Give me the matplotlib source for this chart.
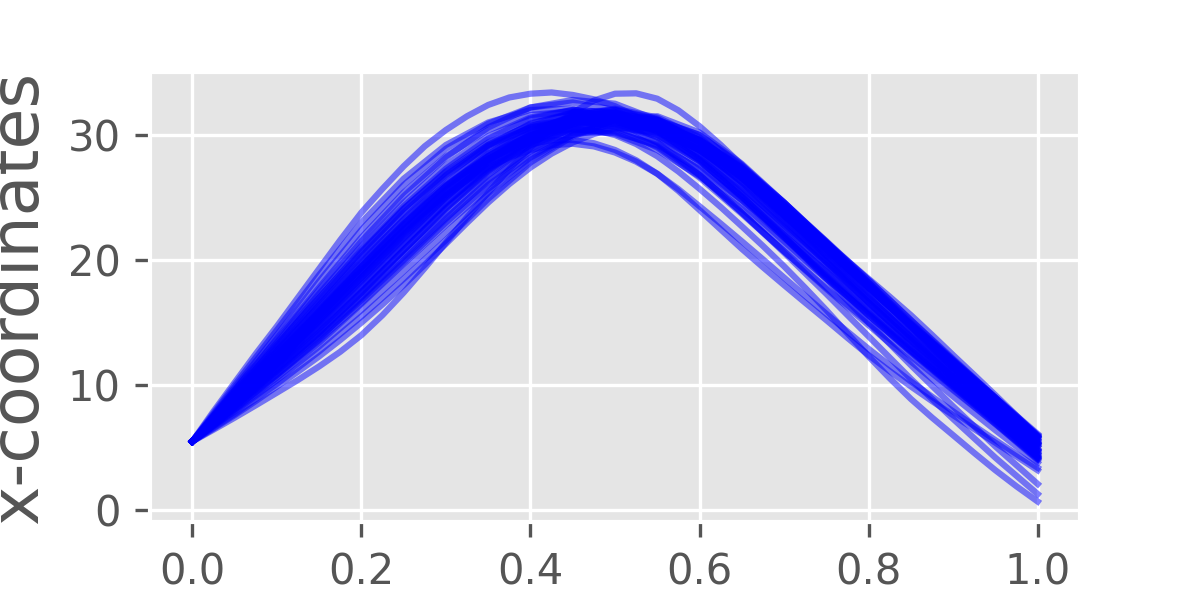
import matplotlib
matplotlib.use("Agg")
import matplotlib.pyplot as plt

plt.style.use("ggplot")

# sample positions along the curve (coarse sampling for most curves)
x_positions = [0.00, 0.05, 0.10, 0.15, 0.20, 0.25, 0.30, 0.35, 0.40, 0.45, 0.50,
               0.55, 0.60, 0.65, 0.70, 0.75, 0.80, 0.85, 0.90, 0.95, 1.00]

# finer sampling for the outlying curves that stand apart from the bundle
x_positions_fine = [0.000, 0.025, 0.050, 0.075, 0.100, 0.125, 0.150, 0.175, 0.200, 0.225,
                    0.250, 0.275, 0.300, 0.325, 0.350, 0.375, 0.400, 0.425, 0.450, 0.475,
                    0.500, 0.525, 0.550, 0.575, 0.600, 0.625, 0.650, 0.675, 0.700, 0.725,
                    0.750, 0.775, 0.800, 0.825, 0.850, 0.875, 0.900, 0.925, 0.950, 0.975, 1.000]

curve_01 = [5.5, 7.9, 10.2, 12.5, 14.7, 17.0, 19.3, 21.6, 23.8, 25.7, 27.5, 29.1, 30.4, 31.5, 32.4, 33.0, 33.3, 33.4, 33.2, 32.85,
            32.3, 31.5, 30.6, 29.5, 28.2, 26.8, 25.3, 23.8, 22.2, 20.6, 19.1, 17.6, 16.1, 14.6, 13.1, 11.6, 10.1, 8.6, 7.2, 5.8, 4.5]
curve_19 = [5.5, 6.44, 7.4, 8.39, 9.4, 10.42, 11.5, 12.67, 14.0, 15.6, 17.4, 19.36, 21.4, 23.43, 25.4, 27.28, 29.0, 30.53, 31.8, 32.75,
            33.3, 33.33, 32.9, 31.97, 30.7, 29.21, 27.6, 26.0, 24.4, 22.88, 21.4, 19.94, 18.5, 17.07, 15.6, 14.02, 12.4, 10.81, 9.2, 7.56, 5.9]
curve_20 = [5.5, 6.53, 7.6, 8.73, 9.9, 11.08, 12.3, 13.61, 15.0, 16.46, 18.0, 19.63, 21.3, 22.98, 24.6, 26.08, 27.4, 28.51, 29.4, 30.08,
            30.5, 30.65, 30.5, 30.0, 29.2, 28.11, 26.8, 25.31, 23.7, 22.06, 20.4, 18.75, 17.1, 15.44, 13.8, 12.19, 10.6, 9.0, 7.4, 5.8, 4.2]
curve_21 = [5.5, 7.2, 8.9, 10.59, 12.3, 14.05, 15.8, 17.52, 19.2, 20.84, 22.4, 23.86, 25.2, 26.39, 27.4, 28.21, 28.8, 29.18, 29.3, 29.09,
            28.6, 27.87, 26.9, 25.67, 24.3, 22.92, 21.5, 20.06, 18.6, 17.14, 15.7, 14.28, 12.9, 11.58, 10.3, 9.08, 7.9, 6.74, 5.6, 4.49, 3.4]
curve_22 = [5.5, 7.3, 9.1, 10.9, 12.7, 14.5, 16.3, 18.12, 19.9, 21.6, 23.2, 24.68, 26.0, 27.15, 28.1, 28.81, 29.3, 29.58, 29.6, 29.34,
            28.8, 27.98, 26.9, 25.53, 24.0, 22.45, 20.9, 19.43, 18.0, 16.59, 15.2, 13.78, 12.4, 11.12, 9.9, 8.73, 7.6, 6.49, 5.4, 4.3, 3.2]
curve_23 = [5.5, 7.26, 9.0, 10.7, 12.4, 14.14, 15.9, 17.71, 19.5, 21.24, 22.9, 24.46, 25.9, 27.19, 28.3, 29.21, 29.9, 30.33, 30.5, 30.39,
            30.0, 29.28, 28.3, 27.08, 25.7, 24.24, 22.7, 21.13, 19.5, 17.78, 16.0, 14.14, 12.3, 10.55, 8.9, 7.41, 6.0, 4.58, 3.2, 1.91, 0.7]

curve_02 = [5.5, 10.0, 14.4, 18.8, 23.0, 26.5, 29.2, 31.0, 32.0, 32.1, 31.2, 29.4, 26.8, 23.8, 20.7, 17.7, 14.8, 11.9, 9.1, 6.4, 3.8]
curve_03 = [5.5, 9.8, 14.0, 18.3, 22.4, 26.0, 28.9, 30.9, 32.2, 32.6, 32.0, 30.4, 28.0, 25.0, 21.8, 18.6, 15.6, 12.7, 9.8, 7.0, 4.2]
curve_04 = [5.5, 9.6, 13.6, 17.6, 21.5, 25.1, 28.2, 30.6, 32.2, 32.8, 32.5, 31.2, 29.0, 26.2, 23.0, 19.8, 16.6, 13.5, 10.5, 7.6, 4.8]
curve_05 = [5.5, 9.4, 13.2, 17.0, 20.8, 24.3, 27.3, 29.7, 31.3, 32.0, 31.8, 30.6, 28.5, 25.8, 22.8, 19.8, 16.8, 13.9, 11.0, 8.3, 5.6]
curve_06 = [5.5, 9.2, 12.8, 16.4, 20.1, 23.6, 26.7, 29.2, 30.9, 31.7, 31.6, 30.6, 28.8, 26.3, 23.5, 20.6, 17.7, 14.8, 11.9, 9.0, 6.0]
curve_07 = [5.5, 9.0, 12.4, 15.9, 19.4, 22.8, 25.9, 28.5, 30.4, 31.4, 31.5, 30.6, 28.8, 26.2, 23.2, 20.1, 17.0, 13.9, 10.8, 7.8, 4.9]
curve_08 = [5.5, 8.8, 12.1, 15.5, 19.0, 22.4, 25.6, 28.3, 30.3, 31.5, 31.8, 31.1, 29.5, 27.1, 24.2, 21.0, 17.8, 14.6, 11.4, 8.3, 5.3]
curve_09 = [5.5, 8.7, 11.9, 15.2, 18.6, 22.0, 25.2, 28.0, 30.2, 31.6, 32.0, 31.3, 29.4, 26.6, 23.3, 19.9, 16.6, 13.4, 10.3, 7.3, 4.4]
curve_10 = [5.5, 8.6, 11.7, 14.9, 18.3, 21.7, 25.0, 27.8, 29.9, 31.1, 31.3, 30.5, 28.8, 26.4, 23.6, 20.7, 17.8, 14.8, 11.8, 8.8, 5.8]
curve_11 = [5.5, 8.5, 11.5, 14.6, 17.9, 21.3, 24.6, 27.5, 29.7, 31.0, 31.3, 30.6, 29.0, 26.7, 23.9, 20.9, 17.9, 14.9, 12.0, 9.0, 5.7]
curve_12 = [5.5, 8.4, 11.3, 14.3, 17.5, 20.8, 24.1, 27.1, 29.4, 30.9, 31.4, 30.9, 29.5, 27.3, 24.4, 21.4, 18.4, 15.2, 12.1, 9.0, 5.9]
curve_13 = [5.5, 8.3, 11.1, 14.0, 17.1, 20.4, 23.7, 26.8, 29.3, 30.9, 31.5, 31.0, 29.4, 27.0, 24.0, 20.9, 17.8, 14.8, 11.8, 8.9, 6.0]
curve_14 = [5.5, 8.2, 10.9, 13.8, 16.8, 20.0, 23.3, 26.4, 28.9, 30.6, 31.3, 31.0, 29.6, 27.4, 24.5, 21.5, 18.4, 15.2, 12.0, 9.0, 6.1]
curve_15 = [5.5, 8.1, 10.8, 13.7, 17.0, 20.3, 23.4, 26.3, 28.7, 30.4, 31.3, 31.2, 30.0, 27.6, 24.6, 21.4, 18.2, 15.0, 11.9, 8.8, 5.8]
curve_16 = [5.5, 8.0, 10.6, 13.4, 16.5, 19.7, 22.8, 25.7, 28.2, 30.0, 31.0, 30.9, 29.6, 27.3, 24.3, 21.1, 17.9, 14.6, 11.4, 8.3, 5.3]
curve_17 = [5.5, 7.9, 10.4, 13.1, 16.0, 19.1, 22.2, 25.3, 28.0, 30.0, 31.2, 31.2, 30.0, 27.5, 24.6, 21.4, 18.1, 14.7, 11.3, 7.9, 4.7]
curve_18 = [5.5, 7.7, 10.1, 12.7, 15.5, 18.5, 21.6, 24.9, 27.8, 29.9, 31.2, 31.5, 30.2, 27.7, 24.6, 21.4, 18.1, 14.8, 11.5, 8.3, 5.1]
curve_24 = [5.5, 8.7, 11.9, 15.2, 18.6, 22.0, 25.1, 27.7, 29.5, 30.4, 30.3, 29.1, 26.8, 23.8, 20.6, 17.3, 13.9, 10.5, 7.3, 4.2, 1.3]
curve_25 = [5.5, 8.3, 11.2, 14.2, 17.4, 20.8, 24.1, 27.0, 29.2, 30.5, 30.8, 29.9, 27.9, 25.1, 21.9, 18.5, 15.0, 11.6, 8.3, 5.1, 2.1]
curve_26 = [5.5, 8.5, 11.6, 14.8, 18.0, 21.4, 24.6, 27.3, 29.2, 30.2, 30.2, 29.2, 27.3, 24.8, 22.0, 19.1, 16.2, 13.3, 10.4, 7.5, 4.6]
curve_27 = [5.5, 8.9, 12.2, 15.6, 19.1, 22.5, 25.6, 28.1, 29.8, 30.5, 30.1, 28.8, 26.7, 24.1, 21.3, 18.5, 15.7, 12.8, 10.0, 7.2, 4.3]
curve_28 = [5.5, 9.3, 13.0, 16.8, 20.6, 24.1, 27.1, 29.4, 30.8, 31.2, 30.6, 29.0, 26.6, 23.7, 20.7, 17.8, 15.0, 12.3, 9.6, 6.9, 4.1]
curve_29 = [5.5, 8.1, 10.8, 13.6, 16.6, 19.8, 23.0, 26.0, 28.4, 30.0, 30.6, 30.2, 28.8, 26.6, 23.9, 20.9, 17.8, 14.7, 11.6, 8.5, 5.4]
curve_30 = [5.5, 9.5, 13.4, 17.3, 21.1, 24.6, 27.6, 29.9, 31.4, 32.0, 31.7, 30.3, 28.0, 25.1, 21.9, 18.7, 15.6, 12.6, 9.7, 6.9, 4.0]
curve_31 = [5.5, 8.6, 11.8, 15.0, 18.4, 21.8, 25.0, 27.9, 30.1, 31.5, 32.1, 31.4, 29.8, 27.0, 23.6, 20.4, 17.5, 14.6, 11.6, 8.6, 5.6]
curve_32 = [5.5, 9.0, 12.5, 16.0, 19.5, 22.9, 25.9, 28.3, 30.0, 30.9, 30.9, 30.0, 28.1, 25.5, 22.6, 19.6, 16.6, 13.6, 10.6, 7.7, 4.8]
curve_33 = [5.5, 8.6, 11.8, 15.1, 18.6, 22.1, 25.3, 28.0, 30.0, 31.2, 31.5, 30.8, 29.1, 26.6, 23.6, 20.5, 17.4, 14.3, 11.2, 8.2, 5.2]
curve_34 = [5.5, 9.2, 12.9, 16.6, 20.3, 23.8, 26.8, 29.1, 30.6, 31.3, 31.1, 30.0, 27.9, 25.1, 22.0, 18.9, 15.9, 13.0, 10.1, 7.3, 4.5]
curve_35 = [5.5, 8.4, 11.4, 14.5, 17.8, 21.2, 24.5, 27.4, 29.7, 31.2, 31.7, 31.2, 29.6, 27.2, 24.3, 21.1, 17.9, 14.7, 11.6, 8.5, 5.4]
curve_36 = [5.5, 9.4, 13.2, 17.0, 20.7, 24.1, 27.0, 29.2, 30.6, 31.1, 30.7, 29.4, 27.2, 24.5, 21.5, 18.5, 15.6, 12.7, 9.9, 7.1, 4.3]
curve_37 = [5.5, 8.9, 12.3, 15.8, 19.4, 22.9, 26.1, 28.8, 30.7, 31.8, 32.0, 31.2, 29.3, 26.6, 23.5, 20.3, 17.1, 13.9, 10.8, 7.8, 4.8]
curve_38 = [5.5, 8.7, 11.9, 15.3, 18.8, 22.2, 25.3, 27.9, 29.8, 30.9, 31.1, 30.4, 28.8, 26.5, 23.8, 20.9, 17.9, 14.9, 11.9, 8.9, 5.9]
curve_39 = [5.5, 9.1, 12.6, 16.2, 19.8, 23.3, 26.5, 29.1, 30.9, 31.8, 31.7, 30.6, 28.5, 25.7, 22.6, 19.5, 16.5, 13.6, 10.7, 7.9, 5.1]
curve_40 = [5.5, 8.3, 11.2, 14.2, 17.4, 20.8, 24.2, 27.2, 29.5, 31.0, 31.5, 31.0, 29.6, 27.4, 24.6, 21.5, 18.2, 14.9, 11.7, 8.6, 5.5]
curve_41 = [5.5, 9.6, 13.7, 17.8, 21.8, 25.4, 28.3, 30.4, 31.6, 31.9, 31.3, 29.8, 27.6, 24.8, 21.8, 18.8, 15.8, 12.8, 9.9, 7.0, 4.1]
curve_42 = [5.5, 8.8, 12.2, 15.6, 19.1, 22.6, 25.8, 28.5, 30.4, 31.3, 31.3, 30.3, 28.4, 25.8, 22.9, 19.9, 16.9, 14.0, 11.1, 8.2, 5.3]

fine_curves = [curve_01, curve_19, curve_20, curve_21, curve_22, curve_23]
coarse_curves = [curve_02, curve_03, curve_04, curve_05, curve_06, curve_07, curve_08,
                 curve_09, curve_10, curve_11, curve_12, curve_13, curve_14, curve_15,
                 curve_16, curve_17, curve_18, curve_24, curve_25, curve_26, curve_27,
                 curve_28, curve_29, curve_30, curve_31, curve_32, curve_33, curve_34,
                 curve_35, curve_36, curve_37, curve_38, curve_39, curve_40, curve_41,
                 curve_42]

y_label = "x-coordinates"

fig, ax = plt.subplots(figsize=(4, 2), dpi=300)
fig.subplots_adjust(bottom=0.13)
for c in fine_curves:
    ax.plot(x_positions_fine, c, color="blue", alpha=0.5, linewidth=1.5)
for c in coarse_curves:
    ax.plot(x_positions, c, color="blue", alpha=0.5, linewidth=1.5)

ax.set_ylabel(y_label, fontsize=16)
fig.savefig("out.png", dpi=300)
